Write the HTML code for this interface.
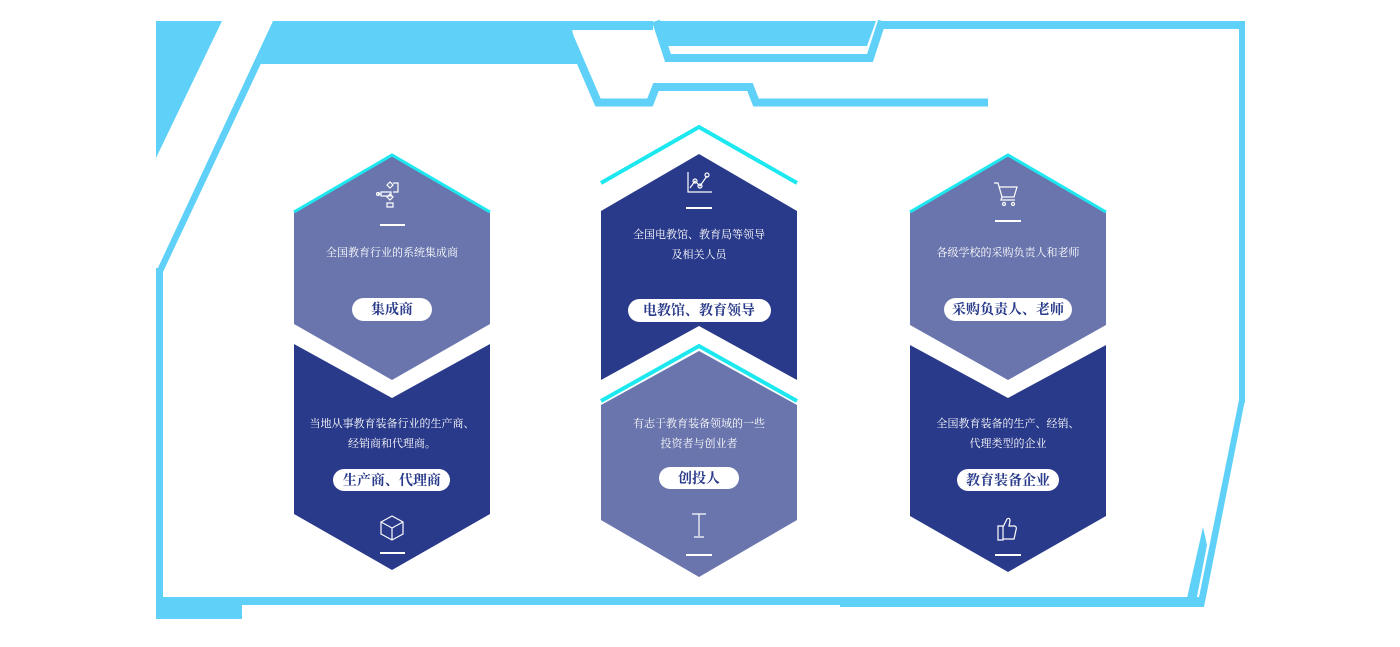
<!DOCTYPE html>
<html><head><meta charset="utf-8"><style>
body{margin:0;background:#fff;width:1400px;height:642px;overflow:hidden}
svg text{font-family:"Liberation Serif","Noto Serif CJK SC","Noto Sans CJK SC",serif}
</style></head><body>
<svg width="1400" height="642" viewBox="0 0 1400 642" xmlns="http://www.w3.org/2000/svg">
<g fill="#5fd1f8">
<polygon points="156,21 222,21 156,158"/>
<polygon points="273,21 570,21 580,64 260,64"/>
<polygon points="273,21 281,21 163,272 156,272"/>
<rect x="156" y="268" width="7" height="337"/>
<rect x="560" y="21" width="93" height="9"/>
<polygon points="659,21 876,21 867,46 668,46"/>
<rect x="1239" y="21" width="6" height="382"/>
<polygon points="1239,400 1245,400 1204,607 1197,607"/>
<polygon points="1203,527 1207,545 1195,607 1185,607"/>
<rect x="156" y="597" width="1045" height="8"/>
<rect x="840" y="600" width="360" height="7"/>
<rect x="156" y="600" width="86" height="19"/>
</g>
<g fill="none" stroke="#5fd1f8" stroke-width="8" stroke-linejoin="miter">
<polyline points="565,26 598,102.5 650,102.5 656,87 750,87 756,102.5 988,102.5"/>
<polyline points="656,21 668,58 870,58 882,21"/>
<polyline points="880,25 1242,25"/>
</g>
<!-- col1 -->
<polygon points="294,212 392,156 490,212 490,324 392,380 294,324" fill="#6a75ad"/>
<polyline points="294,212 392,155 490,212" fill="none" stroke="#1de8f0" stroke-width="3"/>
<polygon points="294,344 392,398 490,344 490,514 392,570 294,514" fill="#293a8a"/>
<!-- col2 -->
<polygon points="601,211 699,154 797,211 797,380 699,326 601,380" fill="#293a8a"/>
<polyline points="601,183 699,127 797,183" fill="none" stroke="#1de8f0" stroke-width="4"/>
<polygon points="601,405 699,351 797,405 797,520 699,577 601,520" fill="#6a75ad"/>
<polyline points="601,401 699,346 797,401" fill="none" stroke="#1de8f0" stroke-width="4"/>
<!-- col3 -->
<polygon points="910,212 1008,156 1106,212 1106,325 1008,380 910,325" fill="#6a75ad"/>
<polyline points="910,212 1008,155 1106,212" fill="none" stroke="#1de8f0" stroke-width="3"/>
<polygon points="910,345 1008,398 1106,345 1106,516 1008,572 910,516" fill="#293a8a"/>

<g stroke="#fff" stroke-width="2">
<line x1="380" y1="225" x2="405" y2="225"/><line x1="380" y1="553" x2="405" y2="553"/>
<line x1="686" y1="208" x2="712" y2="208"/><line x1="686" y1="555" x2="712" y2="555"/>
<line x1="995" y1="221" x2="1021" y2="221"/><line x1="995" y1="555" x2="1021" y2="555"/>
</g>
<!-- icons -->
<g fill="none" stroke="#fff" stroke-width="1.2">
<path d="M387,185 l3,-3 l3,3 l-3,3z M381,192 h10 v4 h-10z M387,197 l3,3 l3,-3 l-3,-3z M387,203 h6 v4 h-6z M393,192 h5 v-9 h-5 M381,194 h-3"/>
<circle cx="378" cy="194" r="1.5"/>
<path d="M688,172 v20 h24 M690,188 l5,-7 l5,5 l7,-10"/>
<circle cx="695" cy="181" r="2"/><circle cx="700" cy="186" r="2"/><circle cx="707" cy="175" r="2"/>
<path d="M994,183 h4 l4,14 h12 l3,-10 h-18 M1002,197 l-1,3 h14"/>
<circle cx="1004" cy="204" r="1.5"/><circle cx="1013" cy="204" r="1.5"/>
<path d="M392,516 l11,6 v12 l-11,6 l-11,-6 v-12z M381,522 l11,6 l11,-6 M392,528 v12"/>
<path d="M692,514 h14 M699,514 v22 M694,537 h10"/>
<path d="M998,526 h5 v14 h-5z M1003,527 l4,-8 q3,-2 3,2 l-1,5 h6 q2,1 1,4 l-2,9 h-11"/>
</g>
<!-- texts -->
<g fill="#fff" font-size="11" text-anchor="middle">
<text x="392" y="256">全国教育行业的系统集成商</text>
<text x="392" y="427">当地从事教育装备行业的生产商、</text>
<text x="392" y="447">经销商和代理商。</text>
<text x="699" y="238">全国电教馆、教育局等领导</text>
<text x="699" y="258">及相关人员</text>
<text x="699" y="427">有志于教育装备领域的一些</text>
<text x="699" y="447">投资者与创业者</text>
<text x="1008" y="256">各级学校的采购负责人和老师</text>
<text x="1008" y="427">全国教育装备的生产、经销、</text>
<text x="1008" y="447">代理类型的企业</text>
</g>
<g fill="#fff">
<rect x="352" y="298" width="80" height="23" rx="11.5"/>
<rect x="333" y="469" width="117" height="22" rx="11"/>
<rect x="628" y="299" width="143" height="23" rx="11.5"/>
<rect x="659" y="467" width="80" height="22" rx="11"/>
<rect x="944" y="298" width="128" height="23" rx="11.5"/>
<rect x="957" y="469" width="102" height="22" rx="11"/>
</g>
<g fill="#293a8a" font-size="14" font-weight="bold" text-anchor="middle">
<text x="392" y="314">集成商</text>
<text x="392" y="485">生产商、代理商</text>
<text x="699" y="315">电教馆、教育领导</text>
<text x="699" y="483">创投人</text>
<text x="1008" y="314">采购负责人、老师</text>
<text x="1008" y="485">教育装备企业</text>
</g>
</svg>
</body></html>
